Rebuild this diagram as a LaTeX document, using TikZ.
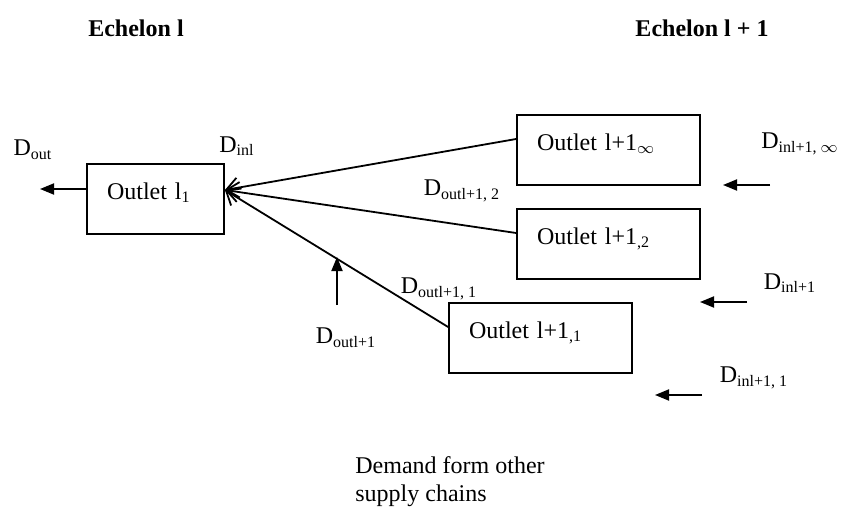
\documentclass[tikz,border=0pt]{standalone}
\usepackage{fontspec}
\setmainfont{Liberation Serif}
\usetikzlibrary{arrows.meta}

\tikzset{
  outlet/.style={draw, line width=0.9pt, minimum height=35pt, inner xsep=10pt,
    align=left, text height=9pt, text depth=9pt, font=\fontsize{12}{14}\selectfont},
  feed/.style={line width=0.9pt, -{Straight Barb[length=6pt,width=10pt,line width=0.9pt]}},
  flow/.style={line width=0.9pt, -{Triangle[length=7pt,width=5.5pt]}},
  lbl/.style={font=\fontsize{12}{14}\selectfont, inner sep=0pt},
  echelon/.style={font=\bfseries\fontsize{12}{14}\selectfont, inner sep=0pt}
}

\begin{document}
\begin{tikzpicture}[x=0.5pt, y=-0.5pt]
\useasboundingbox (0,0) rectangle (841,508);

% echelons
\node[echelon] (ech1) at (136,28) {Echelon l};
\node[echelon] (ech2) at (702,28) {Echelon l + 1};

% outlets
\node[outlet, text width=48.5pt] (o1) at (155.5,199) {Outlet l\textsubscript{1}};
\node[outlet, text width=71.5pt] (oinf) at (608.5,150) {Outlet l+1\textsubscript{$\infty$}};
\node[outlet, text width=71.5pt] (otwo) at (608.5,244) {Outlet l+1\textsubscript{,2}};
\node[outlet, text width=71.5pt] (oone) at (540.5,338) {Outlet l+1\textsubscript{,1}};

\coordinate (in) at ([yshift=4.5pt]o1.east);
\draw[feed] ([yshift=5.5pt]oinf.west) -- (in);
\draw[feed] ([yshift=5.5pt]otwo.west) -- (in);
\draw[feed] ([yshift=5.5pt]oone.west) -- (in);

% demand flows
\coordinate (out) at (40,189);
\draw[flow] ([yshift=5pt]o1.west) -- (out);

\coordinate (up1) at (337,305);
\coordinate (up2) at (337,257);
\draw[flow] (up1) -- (up2);

\coordinate (ra1) at (770,185);
\coordinate (ra2) at (723,185);
\coordinate (rb1) at (747,302);
\coordinate (rb2) at (700,302);
\coordinate (rc1) at (702,395);
\coordinate (rc2) at (655,395);
\draw[flow] (ra1) -- (ra2);
\draw[flow] (rb1) -- (rb2);
\draw[flow] (rc1) -- (rc2);

% labels
\node[lbl] (dout) at (33,150) {D\textsubscript{out}};
\node[lbl] (dinl) at (237,146) {D\textsubscript{inl}};
\node[lbl] (doutone) at (346,338) {D\textsubscript{outl+1}};
\node[lbl] (douttwo) at (462,191) {D\textsubscript{outl+1, 2}};
\node[lbl] (doutthree) at (439,289) {D\textsubscript{outl+1, 1}};
\node[lbl] (dininf) at (800,144) {D\textsubscript{inl+1, $\infty$}};
\node[lbl] (dinone) at (790,283) {D\textsubscript{inl+1}};
\node[lbl] (dintwo) at (754,378) {D\textsubscript{inl+1, 1}};

\node[lbl, align=left, anchor=north west] (other) at (355,456)
  {Demand form other\\supply chains};

\end{tikzpicture}
\end{document}
